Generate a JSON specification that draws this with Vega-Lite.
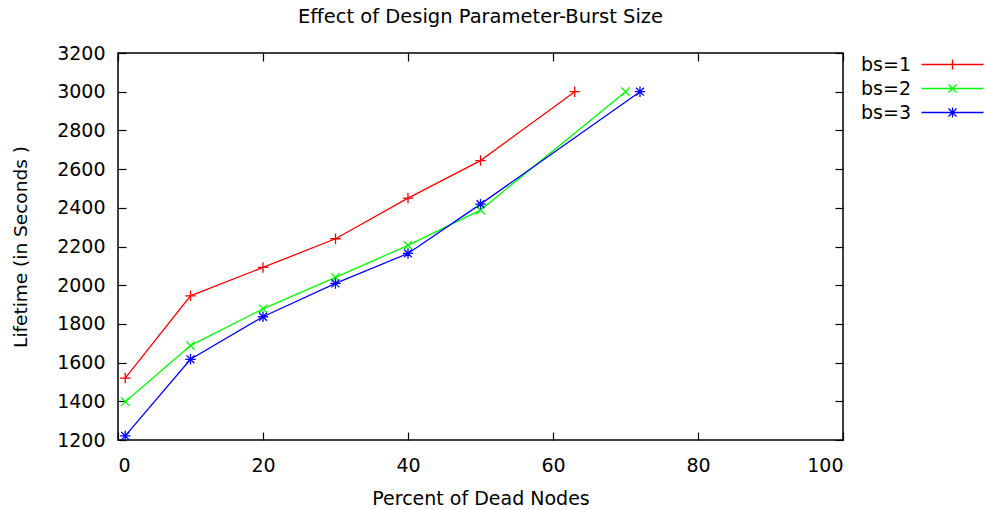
{
  "$schema": "https://vega.github.io/schema/vega-lite/v6.json",
  "autosize": {"type": "none"},
  "padding": {"left": 118, "top": 53, "right": 143, "bottom": 70},
  "width": 725,
  "height": 387,
  "title": {"text": "Effect of Design Parameter-Burst Size", "font": "DejaVu Sans", "fontSize": 19.5, "fontWeight": "normal", "color": "#000", "offset": 17, "anchor": "middle"},
  "config": {
    "view": {"stroke": "#000", "strokeWidth": 1.5},
    "axis": {"grid": false, "domain": false, "tickColor": "#000", "tickWidth": 1.2, "labelColor": "#000", "titleColor": "#000", "labelFont": "DejaVu Sans", "titleFont": "DejaVu Sans", "labelFontSize": 19, "titleFontSize": 19, "titleFontWeight": "normal"}
  },
  "data": {"values": [
    {"x": 1, "y": 1520, "s": "bs=1"},
    {"x": 10, "y": 1945, "s": "bs=1"},
    {"x": 20, "y": 2092, "s": "bs=1"},
    {"x": 30, "y": 2240, "s": "bs=1"},
    {"x": 40, "y": 2450, "s": "bs=1"},
    {"x": 50, "y": 2644, "s": "bs=1"},
    {"x": 63, "y": 3000, "s": "bs=1"},
    {"x": 1, "y": 1398, "s": "bs=2"},
    {"x": 10, "y": 1688, "s": "bs=2"},
    {"x": 20, "y": 1878, "s": "bs=2"},
    {"x": 30, "y": 2040, "s": "bs=2"},
    {"x": 40, "y": 2206, "s": "bs=2"},
    {"x": 50, "y": 2388, "s": "bs=2"},
    {"x": 70, "y": 3000, "s": "bs=2"},
    {"x": 1, "y": 1221, "s": "bs=3"},
    {"x": 10, "y": 1617, "s": "bs=3"},
    {"x": 20, "y": 1837, "s": "bs=3"},
    {"x": 30, "y": 2009, "s": "bs=3"},
    {"x": 40, "y": 2164, "s": "bs=3"},
    {"x": 50, "y": 2419, "s": "bs=3"},
    {"x": 72, "y": 3000, "s": "bs=3"}
  ]},
  "layer": [
    {
      "mark": {"type": "line", "strokeWidth": 1.3},
      "encoding": {
        "x": {"field": "x", "type": "quantitative", "scale": {"domain": [0, 100], "nice": false}, "axis": {"values": [0, 20, 40, 60, 80, 100], "tickSize": -8, "labelPadding": 24, "title": "Percent of Dead Nodes", "titlePadding": 14}},
        "y": {"field": "y", "type": "quantitative", "scale": {"domain": [1200, 3200], "nice": false, "zero": false}, "axis": {"values": [1200, 1400, 1600, 1800, 2000, 2200, 2400, 2600, 2800, 3000, 3200], "format": "d", "tickSize": -8, "labelPadding": 21, "title": "Lifetime (in Seconds )", "titleFontSize": 18.5, "titlePadding": 26}},
        "color": {"field": "s", "type": "nominal", "scale": {"domain": ["bs=1", "bs=2", "bs=3"], "range": ["#ff0000", "#00ff00", "#0000ff"]},
          "legend": {"title": null, "orient": "none", "legendX": 825, "legendY": 2, "padding": 0, "labelFont": "DejaVu Sans", "labelFontSize": 19, "labelColor": "#000", "labelAlign": "right", "labelOffset": -51, "rowPadding": 4, "symbolSize": 100, "symbolStrokeWidth": 1.3,
            "encode": {"symbols": {"update": {"fill": {"value": "transparent"}, "shape": {"signal": "datum.value === 'bs=1' ? 'M-6.2,0H6.2M0,-1V1' : datum.value === 'bs=2' ? 'M-6.2,0H6.2M-0.8,-0.8L0.8,0.8M-0.8,0.8L0.8,-0.8' : 'M-6.2,0H6.2M0,-1V1M-0.8,-0.8L0.8,0.8M-0.8,0.8L0.8,-0.8'"}}}}}
        }
      }
    },
    {
      "transform": [{"filter": "datum.s === 'bs=1'"}],
      "mark": {"type": "point", "filled": false, "strokeWidth": 1.3, "size": 110, "opacity": 1, "shape": "M-1,0H1M0,-1V1"},
      "encoding": {
        "x": {"field": "x", "type": "quantitative", "axis": {"orient": "top", "values": [0, 20, 40, 60, 80, 100], "tickSize": -8, "labels": false, "title": null}},
        "y": {"field": "y", "type": "quantitative", "axis": {"orient": "right", "values": [1200, 1400, 1600, 1800, 2000, 2200, 2400, 2600, 2800, 3000, 3200], "tickSize": -8, "labels": false, "title": null}},
        "color": {"field": "s", "type": "nominal"}
      }
    },
    {
      "transform": [{"filter": "datum.s === 'bs=2'"}],
      "mark": {"type": "point", "filled": false, "strokeWidth": 1.3, "size": 110, "opacity": 1, "shape": "M-0.8,-0.8L0.8,0.8M-0.8,0.8L0.8,-0.8"},
      "encoding": {
        "x": {"field": "x", "type": "quantitative", "axis": null},
        "y": {"field": "y", "type": "quantitative", "axis": null},
        "color": {"field": "s", "type": "nominal"}
      }
    },
    {
      "transform": [{"filter": "datum.s === 'bs=3'"}],
      "mark": {"type": "point", "filled": false, "strokeWidth": 1.3, "size": 110, "opacity": 1, "shape": "M-1,0H1M0,-1V1M-0.75,-0.75L0.75,0.75M-0.75,0.75L0.75,-0.75"},
      "encoding": {
        "x": {"field": "x", "type": "quantitative", "axis": null},
        "y": {"field": "y", "type": "quantitative", "axis": null},
        "color": {"field": "s", "type": "nominal"}
      }
    }
  ],
  "resolve": {"axis": {"x": "independent", "y": "independent"}}
}
